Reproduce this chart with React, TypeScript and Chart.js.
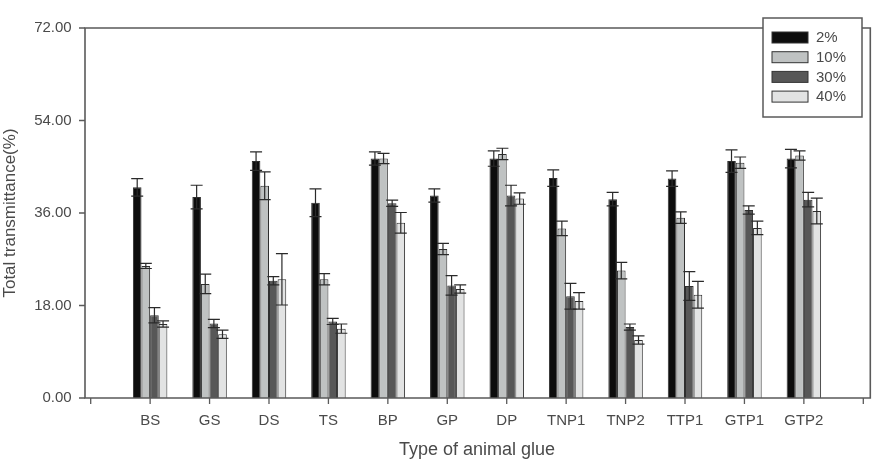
import React, { useEffect, useRef } from "react";
import { Chart, registerables } from "chart.js";

Chart.register(...registerables);

const categories = ["BS", "GS", "DS", "TS", "BP", "GP", "DP", "TNP1", "TNP2", "TTP1", "GTP1", "GTP2"];
const seriesNames = ["2%", "10%", "30%", "40%"];
const p2 = [41.0, 39.1, 46.1, 38.0, 46.6, 39.4, 46.6, 42.8, 38.7, 42.7, 46.1, 46.6];
const p2sd = [1.7, 2.3, 1.8, 2.7, 1.3, 1.3, 1.5, 1.6, 1.3, 1.5, 2.2, 1.8];
const p10 = [25.7, 22.2, 41.3, 23.1, 46.6, 29.0, 47.5, 33.0, 24.8, 35.1, 45.8, 47.2];
const p10sd = [0.5, 1.9, 2.7, 1.1, 1.0, 1.1, 1.1, 1.4, 1.6, 1.1, 1.1, 0.9];
const p30 = [16.1, 14.5, 22.8, 14.9, 37.9, 21.9, 39.4, 19.8, 13.8, 21.8, 36.6, 38.6];
const p30sd = [1.5, 0.8, 0.8, 0.6, 0.6, 1.9, 2.0, 2.5, 0.6, 2.8, 0.8, 1.4];
const p40 = [14.4, 12.4, 23.1, 13.5, 34.1, 21.2, 38.8, 18.9, 11.3, 20.1, 33.1, 36.4];
const p40sd = [0.6, 0.8, 5.0, 0.9, 2.0, 0.8, 1.1, 1.6, 0.8, 2.6, 1.3, 2.5];
const yTicks = [0, 18, 36, 54, 72];

const values = [p2, p10, p30, p40];
const errors = [p2sd, p10sd, p30sd, p40sd];
const fills = ["#0d0d0d", "#bfc2c2", "#575757", "#e2e3e3"];
const FONT = "'Liberation Sans', Arial, sans-serif";
const TEXT = "#4a4a4a";
const LINE = "#5a5a5a";

const framePlugin = {
  id: "framePlugin",
  afterDatasetsDraw(chart: any) {
    const ctx = chart.ctx;
    const ca = chart.chartArea;
    const xs = chart.scales.x;
    const ys = chart.scales.y;
    const L = ca.left - 5.7;
    const R = ca.right + 7;
    const T = ca.top;
    const B = ca.bottom;
    ctx.save();
    // error bars
    ctx.strokeStyle = "#2a2a2a";
    ctx.lineWidth = 1.2;
    chart.data.datasets.forEach((ds: any, di: number) => {
      const meta = chart.getDatasetMeta(di);
      const sd = errors[di];
      meta.data.forEach((el: any, i: number) => {
        const v = ds.data[i];
        if (v == null) return;
        const e = sd[i - 1];
        const x = el.x;
        const yHi = ys.getPixelForValue(v + e);
        const yLo = ys.getPixelForValue(v - e);
        const cw = 6;
        ctx.beginPath();
        ctx.moveTo(x, yLo);
        ctx.lineTo(x, yHi);
        ctx.moveTo(x - cw, yHi);
        ctx.lineTo(x + cw, yHi);
        ctx.moveTo(x - cw, yLo);
        ctx.lineTo(x + cw, yLo);
        ctx.stroke();
      });
    });
    // frame
    ctx.strokeStyle = LINE;
    ctx.lineWidth = 1.6;
    ctx.beginPath();
    ctx.moveTo(L, T);
    ctx.lineTo(R, T);
    ctx.lineTo(R, B);
    ctx.lineTo(L, B);
    ctx.closePath();
    ctx.stroke();
    // y ticks
    ctx.lineWidth = 1.3;
    ctx.beginPath();
    yTicks.forEach((v) => {
      const y = ys.getPixelForValue(v);
      ctx.moveTo(L - 6, y);
      ctx.lineTo(L, y);
    });
    // x ticks
    for (let i = 0; i < chart.data.labels.length; i++) {
      const x = xs.getPixelForValue(i);
      ctx.moveTo(x, B);
      ctx.lineTo(x, B + 6);
    }
    ctx.stroke();
    // legend
    const lx = 763, ly = 18, lw = 99, lh = 99;
    ctx.fillStyle = "#ffffff";
    ctx.fillRect(lx, ly, lw, lh);
    ctx.strokeStyle = LINE;
    ctx.lineWidth = 1.5;
    ctx.strokeRect(lx, ly, lw, lh);
    ctx.font = `15px ${FONT}`;
    ctx.textBaseline = "middle";
    ctx.textAlign = "left";
    chart.data.datasets.forEach((ds: any, di: number) => {
      const cy = 37.5 + di * 19.7;
      ctx.fillStyle = ds.backgroundColor;
      ctx.fillRect(772, cy - 5.5, 36, 11);
      ctx.strokeStyle = "#333";
      ctx.lineWidth = 1;
      ctx.strokeRect(772, cy - 5.5, 36, 11);
      ctx.fillStyle = TEXT;
      ctx.fillText(ds.label, 816, cy + 0.5);
    });
    ctx.restore();
  },
};

export default function App() {
  const ref = useRef<HTMLCanvasElement>(null);
  useEffect(() => {
    document.body.style.margin = "0";
    const labels = ["", ...categories, ""];
    const chart = new Chart(ref.current!, {
      type: "bar",
      data: {
        labels,
        datasets: seriesNames.map((name, di) => ({
          label: name,
          data: [null, ...values[di], null],
          backgroundColor: fills[di],
          borderColor: "#2e2e2e",
          borderWidth: 1,
          barPercentage: 1,
          categoryPercentage: 0.58,
        })),
      },
      options: {
        animation: false,
        responsive: false,
        maintainAspectRatio: false,
        layout: { padding: { left: 0, right: 19.7, top: 12, bottom: 0 } },
        plugins: { legend: { display: false }, tooltip: { enabled: false } },
        scales: {
          x: {
            offset: false,
            grid: { display: false, drawTicks: false },
            border: { display: false },
            ticks: {
              autoSkip: false,
              maxRotation: 0,
              padding: 14,
              color: TEXT,
              font: { family: FONT, size: 15 },
            },
            title: {
              display: true,
              text: "Type of animal glue",
              color: TEXT,
              font: { family: FONT, size: 18 },
              padding: { top: 4, bottom: 4 },
            },
            afterFit: (s: any) => {
              s.height = 67;
            },
          },
          y: {
            min: 0,
            max: 72,
            grid: { display: false, drawTicks: false },
            border: { display: false },
            ticks: {
              stepSize: 18,
              padding: 19,
              color: TEXT,
              font: { family: FONT, size: 15 },
              callback: (v: any) => Number(v).toFixed(2),
            },
            title: {
              display: true,
              text: "Total transmittance(%)",
              color: TEXT,
              font: { family: FONT, size: 17 },
              padding: { top: 0, bottom: 0 },
            },
            afterFit: (s: any) => {
              s.width = 90.7;
            },
          },
        },
      },
      plugins: [framePlugin],
    });
    return () => chart.destroy();
  }, []);
  return (
    <div style={{ width: 883, height: 465 }}>
      <canvas ref={ref} width={883} height={465} style={{ display: "block" }} />
    </div>
  );
}
